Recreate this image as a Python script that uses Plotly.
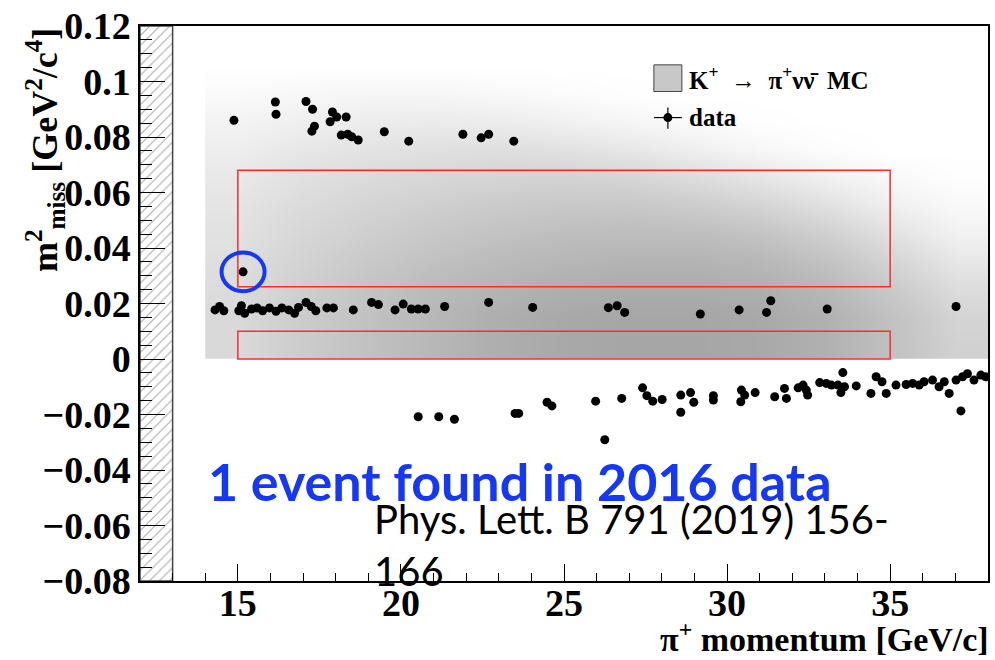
import plotly.graph_objects as go

# ---------------------------------------------------------------------------
# Simulated K+ -> pi+ nu nubar signal density (arbitrary units)
# columns: pi+ momentum bin centres [GeV/c], rows: m2_miss bin centres [GeV^2/c^4]
# ---------------------------------------------------------------------------
mc_momentum = [15, 17, 19, 21, 23, 25, 27, 29, 31, 33, 35, 37]
mc_m2miss = [0.005, 0.015, 0.025, 0.035, 0.045, 0.055, 0.065, 0.075, 0.085, 0.095, 0.105]
mc_density = [
    [0.28, 0.38, 0.46, 0.53, 0.60, 0.64, 0.66, 0.66, 0.64, 0.58, 0.46, 0.34],
    [0.28, 0.38, 0.46, 0.53, 0.60, 0.64, 0.66, 0.66, 0.64, 0.58, 0.46, 0.32],
    [0.26, 0.36, 0.44, 0.51, 0.56, 0.60, 0.62, 0.62, 0.60, 0.53, 0.40, 0.26],
    [0.24, 0.33, 0.40, 0.46, 0.51, 0.54, 0.56, 0.56, 0.53, 0.45, 0.32, 0.18],
    [0.22, 0.30, 0.36, 0.41, 0.45, 0.48, 0.49, 0.48, 0.44, 0.35, 0.22, 0.10],
    [0.20, 0.27, 0.32, 0.36, 0.39, 0.41, 0.41, 0.38, 0.32, 0.23, 0.12, 0.05],
    [0.17, 0.23, 0.27, 0.30, 0.32, 0.33, 0.31, 0.26, 0.19, 0.11, 0.05, 0.01],
    [0.13, 0.18, 0.21, 0.23, 0.24, 0.22, 0.18, 0.12, 0.06, 0.02, 0.00, 0.00],
    [0.09, 0.12, 0.14, 0.15, 0.14, 0.11, 0.07, 0.03, 0.01, 0.00, 0.00, 0.00],
    [0.04, 0.06, 0.07, 0.07, 0.05, 0.03, 0.01, 0.00, 0.00, 0.00, 0.00, 0.00],
    [0.00, 0.00, 0.00, 0.00, 0.00, 0.00, 0.00, 0.00, 0.00, 0.00, 0.00, 0.00],
]

# ---------------------------------------------------------------------------
# 2016 data events (pi+ momentum [GeV/c], m2_miss [GeV^2/c^4])
# ---------------------------------------------------------------------------
# band at high m2_miss
p_high = [14.88, 16.15, 16.17, 17.09, 17.29, 17.35, 17.27, 17.90, 18.03, 17.83, 18.32,
          18.17, 18.37, 18.49, 18.69, 19.49, 20.24, 21.90, 22.46, 22.69, 23.46]
m2_high = [0.0860, 0.0926, 0.0882, 0.0928, 0.0900, 0.0839, 0.0821, 0.0890, 0.0872, 0.0855, 0.0872,
           0.0807, 0.0810, 0.0801, 0.0789, 0.0819, 0.0785, 0.0810, 0.0797, 0.0810, 0.0785]

# K+ -> pi+ pi0 band
p_pipi0 = [14.30, 14.44, 14.57, 15.03, 15.11, 15.21, 15.42, 15.59, 15.76, 15.97, 16.17,
           16.35, 16.56, 16.74, 16.86, 17.09, 17.25, 17.39, 17.73, 17.93, 18.54, 19.10,
           19.31, 19.82, 20.07, 20.32, 20.53, 20.75, 21.34, 22.69, 24.04, 26.36, 26.63,
           26.86, 29.18, 30.37, 31.21, 31.34, 33.07, 37.02]
m2_pipi0 = [0.0177, 0.0189, 0.0174, 0.0174, 0.0192, 0.0165, 0.0180, 0.0184, 0.0174, 0.0184, 0.0172,
            0.0184, 0.0177, 0.0165, 0.0186, 0.0204, 0.0189, 0.0174, 0.0184, 0.0184, 0.0177, 0.0204,
            0.0196, 0.0177, 0.0198, 0.0180, 0.0180, 0.0180, 0.0189, 0.0204, 0.0186, 0.0185, 0.0192,
            0.0168, 0.0162, 0.0177, 0.0168, 0.0210, 0.0180, 0.0189]

# band at negative m2_miss
p_low = [20.53, 21.16, 21.64, 23.50, 23.61, 24.48, 24.63, 25.97, 26.25, 26.77, 27.41,
         27.54, 27.72, 28.01, 28.58, 28.58, 28.88, 28.98, 29.58, 29.58, 30.44, 30.54,
         30.42, 30.86, 31.46, 31.76, 31.82, 32.18, 32.33, 32.43, 32.47, 32.84, 33.04,
         33.20, 33.40, 33.49, 33.55, 33.60, 33.96, 34.41, 34.57, 34.75, 34.88, 35.18,
         35.49, 35.69, 35.89, 36.04, 36.30, 36.50, 36.66, 36.81, 37.02, 37.17, 37.22,
         37.37, 37.57, 37.78, 37.93]
m2_low = [-0.0208, -0.0208, -0.0217, -0.0196, -0.0196, -0.0156, -0.0169, -0.0152, -0.0291, -0.0142, -0.0104,
          -0.0132, -0.0152, -0.0146, -0.0130, -0.0192, -0.0121, -0.0156, -0.0132, -0.0148, -0.0112, -0.0130,
          -0.0154, -0.0121, -0.0136, -0.0106, -0.0142, -0.0104, -0.0094, -0.0112, -0.0130, -0.0085, -0.0088,
          -0.0094, -0.0094, -0.0121, -0.0049, -0.0100, -0.0097, -0.0124, -0.0064, -0.0082, -0.0124, -0.0094,
          -0.0092, -0.0088, -0.0094, -0.0082, -0.0076, -0.0100, -0.0082, -0.0124, -0.0076, -0.0187, -0.0064,
          -0.0053, -0.0076, -0.0058, -0.0064]

# the signal candidate
candidate_p = 15.16
candidate_m2 = 0.0314

# signal regions: (p_min, p_max, m2_min, m2_max)
signal_regions = [
    (15.0, 35.0, 0.026, 0.068),
    (15.0, 35.0, 0.000, 0.010),
]

x_range = [12, 38]
y_range = [-0.08, 0.12]
x_unused_upto = 13  # momentum below this is hatched out

x_tickvals = [15, 20, 25, 30, 35]
y_tickvals = [-0.08, -0.06, -0.04, -0.02, 0, 0.02, 0.04, 0.06, 0.08, 0.1, 0.12]
y_ticktext = ["\u22120.08", "\u22120.06", "\u22120.04", "\u22120.02", "0",
              "0.02", "0.04", "0.06", "0.08", "0.1", "0.12"]

SERIF = "Liberation Serif"
SANS = "Lato"

fig = go.Figure()

fig.add_trace(go.Heatmap(
    x=mc_momentum, y=mc_m2miss, z=mc_density,
    zmin=0, zmax=1, zsmooth="best", showscale=False,
    colorscale=[[0, "rgb(255,255,255)"], [1, "rgb(120,120,120)"]],
    hoverinfo="skip",
))

# hatched, excluded momentum strip on the left
fig.add_trace(go.Scatter(
    x=[x_range[0], x_unused_upto, x_unused_upto, x_range[0], x_range[0]],
    y=[y_range[0], y_range[0], y_range[1], y_range[1], y_range[0]],
    mode="lines", fill="toself",
    fillcolor="white",
    fillpattern=dict(shape="/", fgcolor="#555555", bgcolor="white", size=7, solidity=0.15),
    line=dict(color="#444444", width=1.5),
    hoverinfo="skip",
))

all_p = p_high + p_pipi0 + p_low + [candidate_p]
all_m2 = m2_high + m2_pipi0 + m2_low + [candidate_m2]
fig.add_trace(go.Scatter(
    x=all_p, y=all_m2, mode="markers",
    marker=dict(color="black", size=9, line=dict(width=0)),
    name="data",
))

shapes = []
for p0, p1, m0, m1 in signal_regions:
    shapes.append(dict(type="rect", xref="x", yref="y", x0=p0, x1=p1, y0=m0, y1=m1,
                       line=dict(color="#ff2a2a", width=1.5), fillcolor="rgba(0,0,0,0)", layer="above"))

# ring around the candidate
shapes.append(dict(type="circle", xref="x", yref="y",
                   x0=candidate_p - 0.66, x1=candidate_p + 0.66,
                   y0=candidate_m2 - 0.0070, y1=candidate_m2 + 0.0070,
                   line=dict(color="#1438f5", width=4), layer="above"))

# legend: MC box and data marker
shapes.append(dict(type="rect", xref="paper", yref="paper",
                   x0=0.606, x1=0.639, y0=0.882, y1=0.930,
                   fillcolor="#c8c8c8", line=dict(color="#444444", width=1)))
shapes.append(dict(type="line", xref="paper", yref="paper",
                   x0=0.606, x1=0.639, y0=0.835, y1=0.835, line=dict(color="black", width=1.2)))
shapes.append(dict(type="line", xref="paper", yref="paper",
                   x0=0.6225, x1=0.6225, y0=0.815, y1=0.853, line=dict(color="black", width=1.2)))
shapes.append(dict(type="circle", xref="paper", yref="paper", xsizemode="pixel", ysizemode="pixel",
                   xanchor=0.6225, yanchor=0.835, x0=-4.5, x1=4.5, y0=-4.5, y1=4.5,
                   fillcolor="black", line=dict(color="black", width=0)))

annotations = [
    dict(text="<b>K<sup>+</sup>  \u2192  \u03c0<sup>+</sup>\u03bd\u03bd\u0304  MC</b>", xref="paper", yref="paper",
         x=0.645, y=0.906, xanchor="left", yanchor="middle", showarrow=False,
         font=dict(family=SERIF, size=25, color="black")),
    dict(text="<b>data</b>", xref="paper", yref="paper",
         x=0.645, y=0.835, xanchor="left", yanchor="middle", showarrow=False,
         font=dict(family=SERIF, size=25, color="black")),
    dict(text="<b>m<sup>2</sup><sub>miss</sub> [GeV<sup>2</sup>/c<sup>4</sup>]</b>", xref="paper", yref="paper",
         x=-0.112, y=1.0, xanchor="center", yanchor="top", textangle=-90, showarrow=False,
         font=dict(family=SERIF, size=36, color="black")),
    dict(text="<b>\u03c0<sup>+</sup> momentum [GeV/c]</b>", xref="paper", yref="paper",
         x=1.004, y=-0.1, xanchor="right", yanchor="middle", showarrow=False,
         font=dict(family=SERIF, size=34, color="black")),
    dict(text="<b>1 event found in 2016 data</b>", xref="paper", yref="paper",
         x=0.078, y=0.18, xanchor="left", yanchor="middle", showarrow=False,
         font=dict(family=SANS, size=52, color="#1438f5")),
    dict(text="Phys. Lett. B 791 (2019) 156-<br>166", xref="paper", yref="paper",
         x=0.274, y=0.065, xanchor="left", yanchor="middle", align="left", showarrow=False,
         font=dict(family=SANS, size=40, color="black")),
]

fig.update_layout(
    width=995, height=660,
    margin=dict(l=140, r=5, t=23, b=79),
    paper_bgcolor="white", plot_bgcolor="white",
    showlegend=False,
    shapes=shapes, annotations=annotations,
    xaxis=dict(
        range=x_range, tickvals=x_tickvals, ticks="inside", ticklen=17, tickwidth=1,
        tickcolor="black", showline=True, linecolor="black", linewidth=1.5, mirror=True,
        showgrid=False, zeroline=False, ticklabelstandoff=-12,
        minor=dict(dtick=1, ticks="inside", ticklen=8, tickwidth=1, tickcolor="black", showgrid=False),
        tickfont=dict(family=SERIF, size=38, color="black", weight="bold"),
    ),
    yaxis=dict(
        range=y_range, tickvals=y_tickvals, ticktext=y_ticktext, ticks="inside", ticklen=25,
        tickwidth=1, tickcolor="black", showline=True, linecolor="black", linewidth=1.5, mirror=True,
        showgrid=False, zeroline=False,
        minor=dict(dtick=0.005, ticks="inside", ticklen=12, tickwidth=1, tickcolor="black", showgrid=False),
        tickfont=dict(family=SERIF, size=38, color="black", weight="bold"),
    ),
)

fig.write_html("out.html")
